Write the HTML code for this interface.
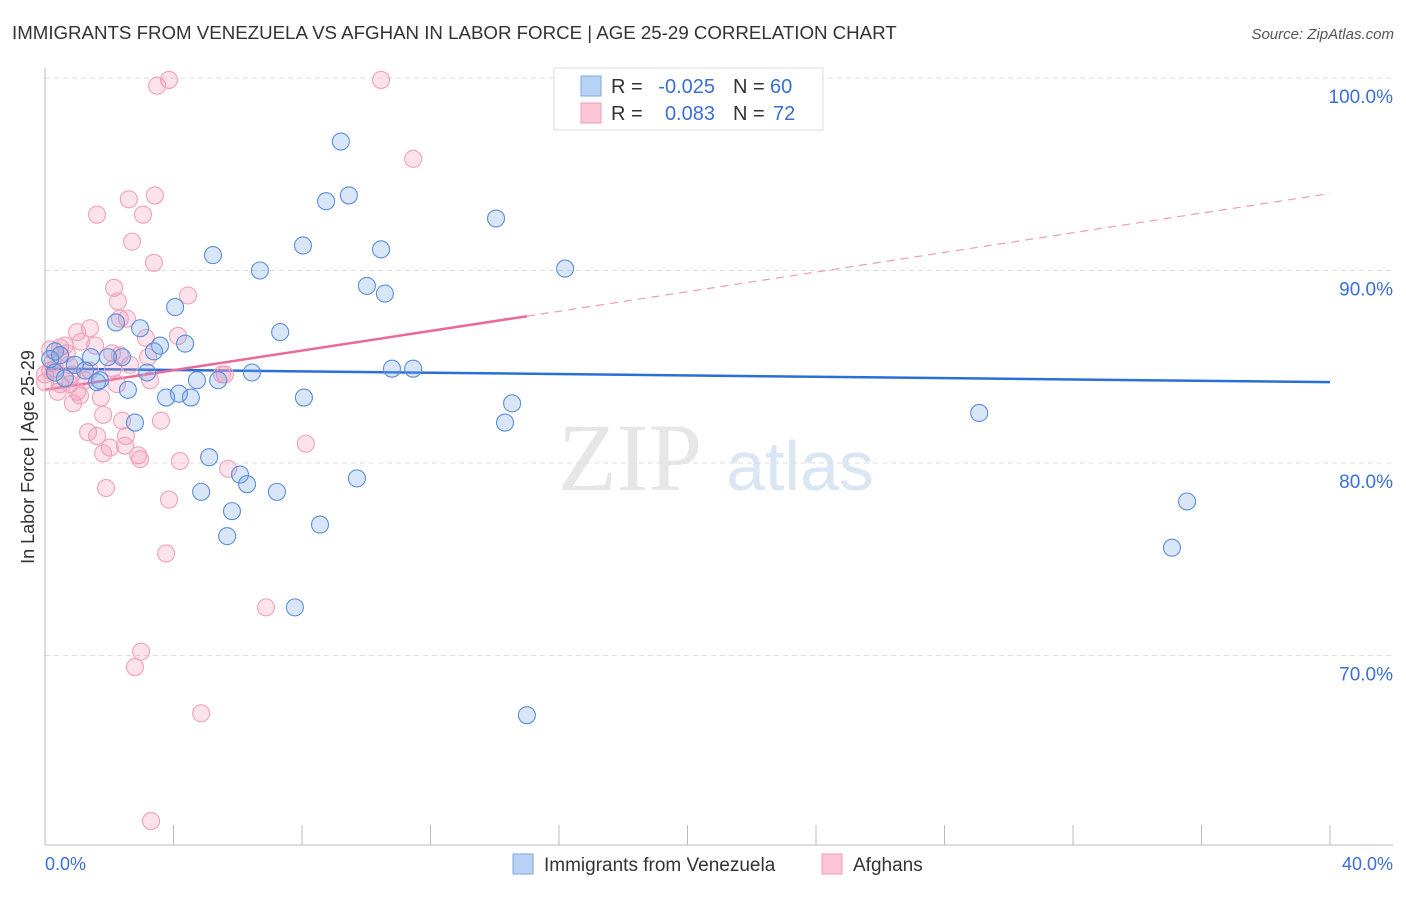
<!DOCTYPE html>
<html><head><meta charset="utf-8"><style>
body{margin:0;background:#fff;font-family:"Liberation Sans",sans-serif}
</style></head><body>
<svg width="1406" height="892" xmlns="http://www.w3.org/2000/svg" font-family="Liberation Sans, sans-serif">
<text x="12" y="39" font-size="18.7" fill="#333">IMMIGRANTS FROM VENEZUELA VS AFGHAN IN LABOR FORCE | AGE 25-29 CORRELATION CHART</text>
<text x="1394" y="39" font-size="15" fill="#555" font-style="italic" text-anchor="end">Source: ZipAtlas.com</text>
<text x="630" y="490" font-size="96" fill="#e6e6e6" font-family="Liberation Serif, serif" text-anchor="middle">ZIP</text>
<text x="800" y="490" font-size="70" fill="#dbe6f5" text-anchor="middle">atlas</text>
<g id="grid"></g><g id="axes"></g><g id="trend"></g><g id="pts"></g>
<text transform="translate(34,457) rotate(-90)" font-size="18" fill="#333" text-anchor="middle">In Labor Force | Age 25-29</text>
<text x="45" y="870" font-size="18" fill="#3a6fd8">0.0%</text>
<text x="1393" y="870" font-size="18" fill="#3a6fd8" text-anchor="end">40.0%</text>
<g font-size="20">
<rect x="554" y="68" width="269" height="62" fill="#fff" stroke="#ddd"/>
<rect x="581" y="76" width="20" height="20" fill="#b8d2f5" stroke="#7ea7e6"/>
<rect x="581" y="103" width="20" height="20" fill="#fbc7d6" stroke="#f09ab5"/>
<text x="611" y="93" fill="#333">R =</text>
<text x="715" y="93" fill="#3a6fd8" text-anchor="end">-0.025</text>
<text x="733" y="93" fill="#333">N =</text>
<text x="770" y="93" fill="#3a6fd8">60</text>
<text x="611" y="120" fill="#333">R =</text>
<text x="715" y="120" fill="#3a6fd8" text-anchor="end">0.083</text>
<text x="733" y="120" fill="#333">N =</text>
<text x="773" y="120" fill="#3a6fd8">72</text>
</g>
<g>
<rect x="513" y="854" width="20" height="20" fill="#b8d2f5" stroke="#7ea7e6"/>
<text x="544" y="871" font-size="19" fill="#333">Immigrants from Venezuela</text>
<rect x="822" y="854" width="20" height="20" fill="#fbc7d6" stroke="#f09ab5"/>
<text x="853" y="871" font-size="19" fill="#333">Afghans</text>
</g>
</svg>
<script>
const blueX=[20.39,21.32,9.21,9.46,8.75,14.04,8.03,10.46,5.23,6.69,16.19,10.02,10.58,4.05,2.21,2.96,7.32,4.36,3.58,3.39,0.31,1.43,2.40,1.96,0.93,3.18,6.44,10.80,11.46,0.62,1.62,4.73,5.39,2.58,4.17,3.77,4.54,8.06,14.54,14.32,2.80,5.11,6.07,6.29,4.86,7.22,9.71,5.82,5.67,8.56,29.08,35.55,35.08,7.78,15.00,0.31,0.16,1.25,0.47,1.71];
const blueY=[99.9,99.9,96.7,93.9,93.6,92.7,91.3,91.1,90.8,90.0,90.1,89.2,88.8,88.1,87.3,87.0,86.8,86.2,86.1,85.8,85.8,85.5,85.5,85.5,85.1,84.7,84.7,84.9,84.9,84.4,84.2,84.3,84.3,83.8,83.6,83.4,83.4,83.4,83.1,82.1,82.1,80.3,79.4,78.9,78.5,78.5,79.2,77.5,76.2,76.8,82.6,78.0,75.6,72.5,66.9,84.7,85.4,84.8,85.6,84.3];
const pinkX=[3.86,3.49,10.46,11.46,3.42,2.61,1.62,3.05,2.71,3.39,2.15,4.45,2.27,2.55,2.33,1.40,1.00,4.14,1.12,3.14,0.47,0.16,0.22,0.68,2.09,2.33,3.21,0.75,0.31,2.12,5.60,5.51,0.0,0.78,1.00,2.24,1.74,0.87,1.81,2.40,3.61,1.34,1.62,2.52,2.02,2.49,1.81,2.90,2.96,4.20,8.12,5.70,1.90,3.86,3.77,6.88,2.99,2.80,4.86,3.30,0.16,0.47,1.25,0.0,0.62,1.56,1.09,0.40,2.65,3.27,0.84,1.40];
const pinkY=[99.9,99.6,99.9,95.8,93.9,93.7,92.9,92.9,91.5,90.4,89.1,88.7,88.4,87.5,87.5,87.0,86.8,86.6,86.3,86.5,86.0,85.9,85.2,85.7,85.7,85.6,85.5,85.1,84.9,84.9,84.6,84.6,84.2,84.1,83.7,84.1,83.4,83.1,82.5,82.2,82.2,81.6,81.4,81.4,80.8,80.9,80.5,80.4,80.2,80.1,81.0,79.7,78.7,78.1,75.3,72.5,70.2,69.4,67.0,61.4,84.8,84.1,84.3,84.6,86.1,86.1,83.5,83.7,85.1,84.3,84.6,84.8];
const yTicks=[100,90,80,70];
const yTickLabels=["100.0%","90.0%","80.0%","70.0%"];
const xTicks=[0,4,8,12,16,20,24,28,32,36,40];
const blueTrend=[84.9,84.2];
const pinkTrend=[83.8,94.0];
const pinkSolidEnd=15;
const NS="http://www.w3.org/2000/svg";
const sx=v=>45+v/40*1285;
const sy=v=>78+(100-v)*19.25;
function mk(t,a,p){const e=document.createElementNS(NS,t);for(const k in a)e.setAttribute(k,a[k]);p.appendChild(e);return e;}
const grid=document.getElementById('grid');
yTicks.forEach((t,i)=>{
 const l=mk('line',{x1:45,x2:1393,y1:sy(t),y2:sy(t),stroke:'#ddd','stroke-dasharray':'5,4'},grid);
 
 
 const tx=mk('text',{x:1393,y:sy(t)+25,'font-size':19,fill:'#3a6fd8','text-anchor':'end'},grid);
 tx.textContent=yTickLabels[i];
 
 
});
const axes=document.getElementById('axes');
const ya=mk('line',{x1:45,x2:45,y1:68,y2:845,stroke:'#bbb'},axes);


const xa=mk('line',{x1:45,x2:1393,y1:845,y2:845,stroke:'#bbb'},axes);


xTicks.forEach(t=>{
 const l=mk('line',{x1:sx(t),x2:sx(t),y1:825,y2:845,stroke:'#bbb'},axes);
 
 
});
const tr=document.getElementById('trend');
const pts=document.getElementById('pts');
pinkX.forEach((x,i)=>{
 const c=mk('circle',{cx:sx(x),cy:sy(pinkY[i]),r:8.5,fill:'rgba(244,150,180,0.28)',stroke:'#f2a0ba','stroke-width':1.1},pts);
 
 
});
blueX.forEach((x,i)=>{
 const c=mk('circle',{cx:sx(x),cy:sy(blueY[i]),r:8.5,fill:'rgba(120,165,230,0.28)',stroke:'#5a8edc','stroke-width':1.1},pts);
 
 
});
const pAt=x=>pinkTrend[0]+(pinkTrend[1]-pinkTrend[0])*x/40;
const bl=mk('line',{x1:sx(0),y1:sy(blueTrend[0]),x2:sx(40),y2:sy(blueTrend[1]),stroke:'#2a6fd6','stroke-width':2.5},tr);


const pl=mk('line',{x1:sx(0),y1:sy(pAt(0)),x2:sx(pinkSolidEnd),y2:sy(pAt(pinkSolidEnd)),stroke:'#e8699a','stroke-width':2.5},tr);


const pd=mk('line',{x1:sx(pinkSolidEnd),y1:sy(pAt(pinkSolidEnd)),x2:sx(40),y2:sy(pAt(40)),stroke:'#ee9ab8','stroke-width':1.2,'stroke-dasharray':'8,6'},tr);


</script>
</body></html>
